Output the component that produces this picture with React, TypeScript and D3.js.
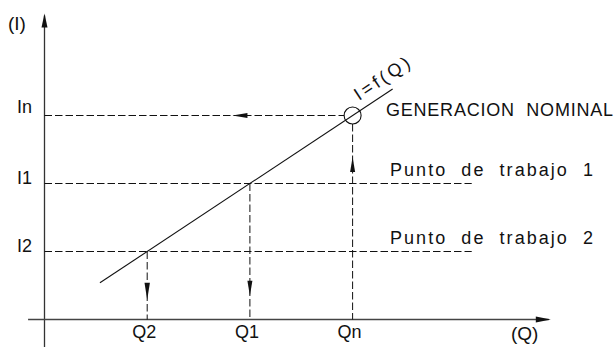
import React from "react";
import * as d3 from "d3";

// Operating levels (flow Q vs. current I), in relative units
const qLevels = [1, 2, 3];
const qLabels = ["Q2", "Q1", "Qn"];
const iLevels = [1, 2, 3];
const iLabels = ["I2", "I1", "In"];
const curveQ = [0.54, 3.39]; // I = f(Q) drawn as I = Q
const curveI = [0.54, 3.39];
const sideTexts = ["Punto  de  trabajo  2", "Punto  de  trabajo  1", "GENERACION  NOMINAL"];
const guideEnd = [4.16, 4.16, 3]; // where each horizontal guide ends (Q units)
const axisQ = [-0.16, 4.93];
const axisI = [-0.37, 4.5];

const W = 614;
const H = 347;

export default function App() {
  const x = d3.scaleLinear().domain([0, 5]).range([44.5, 44.5 + 5 * 102.7]);
  const y = d3.scaleLinear().domain([0, 4]).range([319.5, 319.5 - 4 * 68]);
  const line = d3.line<number>().x((_, i) => x(curveQ[i])).y((d) => y(d));
  const font = "'Liberation Sans', Arial, sans-serif";
  const ink = "#111";
  const dash = "7.5,3";
  const r = 8.5;
  const nx = x(qLevels[2]);
  const ny = y(iLevels[2]);

  const head = (tx: number, ty: number, dx: number, dy: number, len: number, hw: number) => {
    const bx = tx - dx * len;
    const by = ty - dy * len;
    const px = -dy * hw;
    const py = dx * hw;
    return `M${tx},${ty}L${bx + px},${by + py}L${bx - px},${by - py}Z`;
  };

  const angle = (Math.atan2(y(curveI[1]) - y(curveI[0]), x(curveQ[1]) - x(curveQ[0])) * 180) / Math.PI;

  return (
    <svg width={W} height={H} style={{ position: "absolute", left: 0, top: 0, background: "#fff" }}
      fontFamily={font}>
      {/* axes */}
      <line x1={x(0)} x2={x(0)} y1={y(axisI[0]) + 30} y2={y(axisI[1]) + 2} stroke="#333" strokeWidth={1.3} />
      <path d={head(x(0), y(axisI[1]), 0, -1, 14, 3)} fill={ink} />
      <line x1={x(axisQ[0])} x2={x(axisQ[1]) - 2} y1={y(0)} y2={y(0)} stroke="#444" strokeWidth={1.3} />
      <path d={head(x(axisQ[1]), y(0), 1, 0, 15, 3)} fill={ink} />
      <text x={8} y={30} fontSize={19} fill={ink}>(I)</text>
      <text x={511} y={340} fontSize={19} fill={ink}>(Q)</text>

      {/* horizontal guides */}
      {iLevels.map((v, i) => (
        <g key={"h" + i}>
          <line x1={x(0)} x2={i === 2 ? nx - r : x(guideEnd[i])} y1={y(v)} y2={y(v)}
            stroke={ink} strokeWidth={1} strokeDasharray={dash} />
          <text x={17} y={y(v) - (i === 2 ? 3 : 0)} fontSize={18} fill={ink}>{iLabels[i]}</text>
          <text x={i === 2 ? 386 : 390} y={y(v) - (i === 2 ? 0 : 8)} fontSize={18}
            textLength={i === 2 ? 227 : 203} lengthAdjust="spacing" fill={ink}
            style={{ whiteSpace: "pre" }}>{sideTexts[i]}</text>
        </g>
      ))}
      <path d={head(x(1.83), ny, -1, 0, 15, 2.5)} fill={ink} />

      {/* vertical guides */}
      {qLevels.map((v, i) => (
        <g key={"v" + i}>
          <line x1={x(v)} x2={x(v)} y1={i === 2 ? ny + r : y(iLevels[i])} y2={y(0)}
            stroke={ink} strokeWidth={1} strokeDasharray={dash} />
          <text x={x(v) - 3} y={338} fontSize={18} textAnchor="middle" fill={ink}>{qLabels[i]}</text>
        </g>
      ))}
      <path d={head(x(qLevels[0]), y(0.29), 0, 1, 17, 2.7)} fill={ink} />
      <path d={head(x(qLevels[1]), y(0.35), 0, 1, 15, 2.5)} fill={ink} />
      <path d={head(x(qLevels[2]), y(2.39), 0, -1, 15, 2.5)} fill={ink} />

      {/* characteristic I = f(Q) */}
      <path d={line(curveI) || ""} fill="none" stroke={ink} strokeWidth={1.1} />
      <circle cx={nx} cy={ny} r={r} fill="none" stroke={ink} strokeWidth={1.1} />
      <text transform={`translate(359,101) rotate(${angle})`} fontSize={18} textLength={63}
        lengthAdjust="spacing" fill={ink}>I=f(Q)</text>
    </svg>
  );
}
